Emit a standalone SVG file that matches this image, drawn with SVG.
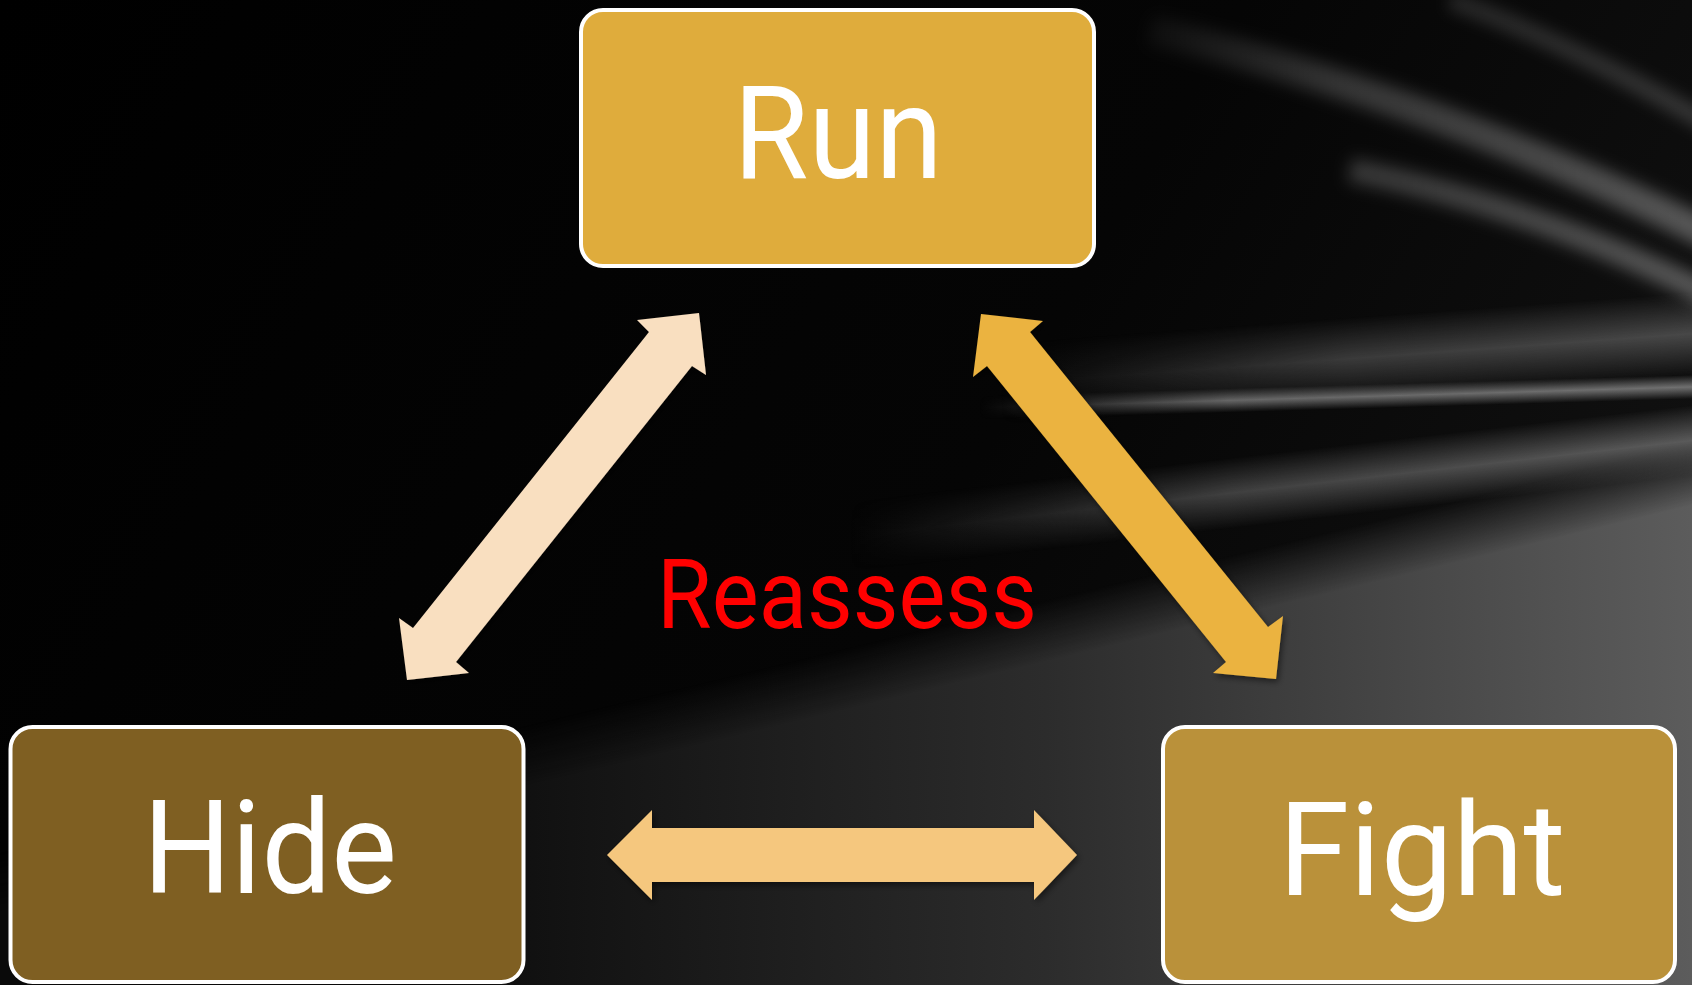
<svg xmlns="http://www.w3.org/2000/svg" width="1692" height="985" viewBox="0 0 1692 985">
  <defs>
    <style>
      .box { stroke: #ffffff; stroke-width: 4; }
      .lbl { font-family: Roboto, "Open Sans", "DejaVu Sans", sans-serif; fill: #ffffff; text-anchor: middle; }
      .streak { fill: none; stroke: url(#gStreak); filter: url(#blur8); }
    </style>
    <linearGradient id="gBase" x1="0" y1="0" x2="1692" y2="985" gradientUnits="userSpaceOnUse">
      <stop offset="0" stop-color="#000000"/>
      <stop offset="0.55" stop-color="#050505"/>
      <stop offset="1" stop-color="#151515"/>
    </linearGradient>
    <linearGradient id="gLow" x1="400" y1="0" x2="1692" y2="0" gradientUnits="userSpaceOnUse">
      <stop offset="0" stop-color="#0a0a0a"/>
      <stop offset="0.5" stop-color="#2c2c2c"/>
      <stop offset="1" stop-color="#5c5c5c"/>
    </linearGradient>
    <linearGradient id="gMid" x1="850" y1="0" x2="1692" y2="0" gradientUnits="userSpaceOnUse">
      <stop offset="0" stop-color="#3a3a3a" stop-opacity="0"/>
      <stop offset="0.45" stop-color="#404040"/>
      <stop offset="1" stop-color="#5a5a5a"/>
    </linearGradient>
    <linearGradient id="gUp" x1="1000" y1="0" x2="1692" y2="0" gradientUnits="userSpaceOnUse">
      <stop offset="0" stop-color="#3a3a3a" stop-opacity="0"/>
      <stop offset="0.5" stop-color="#3a3a3a"/>
      <stop offset="1" stop-color="#484848"/>
    </linearGradient>
    <linearGradient id="gBright" x1="980" y1="0" x2="1692" y2="0" gradientUnits="userSpaceOnUse">
      <stop offset="0" stop-color="#606060" stop-opacity="0"/>
      <stop offset="0.35" stop-color="#666666"/>
      <stop offset="1" stop-color="#707070"/>
    </linearGradient>
    <linearGradient id="gStreak" x1="1100" y1="0" x2="1692" y2="0" gradientUnits="userSpaceOnUse">
      <stop offset="0" stop-color="#ffffff" stop-opacity="0"/>
      <stop offset="0.4" stop-color="#ffffff" stop-opacity="0.18"/>
      <stop offset="1" stop-color="#ffffff" stop-opacity="0.3"/>
    </linearGradient>

    <linearGradient id="mkLow" x1="1282.5" y1="543" x2="1296.5" y2="601" gradientUnits="userSpaceOnUse">
      <stop offset="0" stop-color="#000000"/>
      <stop offset="1" stop-color="#ffffff"/>
    </linearGradient>
    <linearGradient id="mkMid" x1="1342" y1="445" x2="1350" y2="515" gradientUnits="userSpaceOnUse">
      <stop offset="0" stop-color="#000000"/>
      <stop offset="0.5" stop-color="#ffffff"/>
      <stop offset="1" stop-color="#000000"/>
    </linearGradient>
    <linearGradient id="mkUp" x1="1343" y1="318" x2="1349" y2="400" gradientUnits="userSpaceOnUse">
      <stop offset="0" stop-color="#000000"/>
      <stop offset="0.5" stop-color="#ffffff"/>
      <stop offset="1" stop-color="#000000"/>
    </linearGradient>
    <linearGradient id="mkBright" x1="1346" y1="385" x2="1346.7" y2="409" gradientUnits="userSpaceOnUse">
      <stop offset="0" stop-color="#000000"/>
      <stop offset="0.5" stop-color="#ffffff"/>
      <stop offset="1" stop-color="#000000"/>
    </linearGradient>
    <mask id="mLow" maskUnits="userSpaceOnUse" x="0" y="0" width="1692" height="985">
      <rect x="0" y="0" width="1692" height="985" fill="url(#mkLow)"/>
    </mask>
    <mask id="mMid" maskUnits="userSpaceOnUse" x="0" y="0" width="1692" height="985">
      <rect x="0" y="0" width="1692" height="985" fill="url(#mkMid)"/>
    </mask>
    <mask id="mUp" maskUnits="userSpaceOnUse" x="0" y="0" width="1692" height="985">
      <rect x="0" y="0" width="1692" height="985" fill="url(#mkUp)"/>
    </mask>
    <mask id="mBright" maskUnits="userSpaceOnUse" x="0" y="0" width="1692" height="985">
      <rect x="0" y="0" width="1692" height="985" fill="url(#mkBright)"/>
    </mask>

    <filter id="blur8" filterUnits="userSpaceOnUse" x="0" y="0" width="1692" height="985">
      <feGaussianBlur stdDeviation="8"/>
    </filter>
    <filter id="shadow" x="-10%" y="-10%" width="120%" height="120%">
      <feDropShadow dx="2" dy="3" stdDeviation="3" flood-color="#000000" flood-opacity="0.5"/>
    </filter>
  </defs>

  <g id="background">
    <rect x="0" y="0" width="1692" height="985" fill="url(#gBase)"/>
    <rect x="0" y="0" width="1692" height="985" fill="url(#gLow)" mask="url(#mLow)"/>
    <rect x="0" y="0" width="1692" height="985" fill="url(#gMid)" mask="url(#mMid)"/>
    <rect x="0" y="0" width="1692" height="985" fill="url(#gUp)" mask="url(#mUp)"/>
    <rect x="0" y="0" width="1692" height="985" fill="url(#gBright)" mask="url(#mBright)"/>
    <path class="streak" d="M 1150 30 C 1350 80 1540 150 1720 240" stroke-width="30"/>
    <path class="streak" d="M 1350 170 C 1500 200 1620 250 1720 300" stroke-width="24"/>
    <path class="streak" d="M 1450 0 C 1560 40 1650 90 1720 130" stroke-width="18" opacity="0.6"/>
  </g>

  <g id="connectors" filter="url(#shadow)">
    <polygon id="arrow-run-hide" fill="#F9DFC0"
      points="699,313 706,375 692,366 456,662 469,673 407,680 399,618 413,628 649,332 637,320"/>
    <polygon id="arrow-run-fight" fill="#EBB33F"
      points="981,314 1043,321 1030,332 1268,627 1283,616 1276,679 1213,673 1226,662 987,366 973,377"/>
    <polygon id="arrow-hide-fight" fill="#F5C77E"
      points="607,855 652,810 652,828 1034,828 1034,810 1077,855 1034,900 1034,882 652,882 652,900"/>
  </g>

  <g id="node-run">
    <rect class="box" x="581" y="10" width="513" height="256" rx="22" fill="#DFAC3C"/>
    <text class="lbl" x="838" y="178" font-size="129" textLength="209" lengthAdjust="spacingAndGlyphs">Run</text>
  </g>

  <g id="node-hide">
    <rect class="box" x="10.5" y="727" width="513" height="255" rx="22" fill="#7F5F22"/>
    <text class="lbl" x="270" y="893" font-size="129" textLength="254" lengthAdjust="spacingAndGlyphs">Hide</text>
  </g>

  <g id="node-fight">
    <rect class="box" x="1163" y="727" width="512" height="255" rx="22" fill="#BA913A"/>
    <text class="lbl" x="1422" y="895" font-size="129" textLength="287" lengthAdjust="spacingAndGlyphs">Fight</text>
  </g>

  <g id="label-reassess">
    <text x="847" y="628" font-family="Roboto, 'Open Sans', 'DejaVu Sans', sans-serif" font-size="96" fill="#FF0000" text-anchor="middle" textLength="380" lengthAdjust="spacingAndGlyphs">Reassess</text>
  </g>
</svg>
